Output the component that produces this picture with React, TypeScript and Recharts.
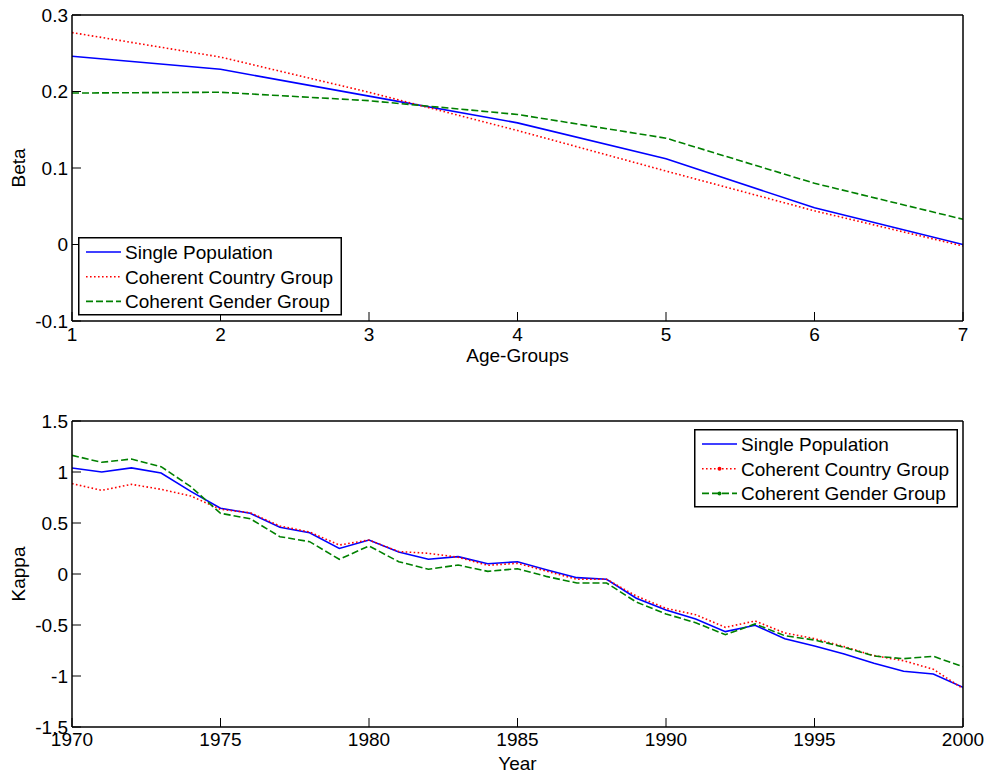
import React from 'react';
import { LineChart, Line, XAxis, YAxis, Legend } from 'recharts';

const FONT = '"Liberation Sans", Arial, Helvetica, sans-serif';
const FS = 19;

// top panel: beta by age group
const ageGroups = [1, 2, 3, 4, 5, 6, 7];
const betaSingle = [0.246, 0.229, 0.194, 0.159, 0.112, 0.048, 0.0];
const betaCountry = [0.277, 0.245, 0.199, 0.149, 0.096, 0.044, -0.002];
const betaGender = [0.198, 0.199, 0.188, 0.17, 0.139, 0.08, 0.033];
const betaTicks = [-0.1, 0, 0.1, 0.2, 0.3];

// bottom panel: kappa by year
const years = [
  1970, 1971, 1972, 1973, 1974, 1975, 1976, 1977, 1978, 1979, 1980, 1981, 1982, 1983, 1984, 1985,
  1986, 1987, 1988, 1989, 1990, 1991, 1992, 1993, 1994, 1995, 1996, 1997, 1998, 1999, 2000,
];
const kappaSingle = [
  1.04, 1.0, 1.04, 0.99, 0.81, 0.644, 0.595, 0.458, 0.405, 0.25, 0.333, 0.216, 0.144, 0.17, 0.101,
  0.12, 0.04, -0.036, -0.052, -0.238, -0.353, -0.441, -0.565, -0.503, -0.634, -0.706, -0.784,
  -0.876, -0.954, -0.98, -1.111,
];
const kappaCountry = [
  0.886, 0.82, 0.879, 0.83, 0.765, 0.634, 0.601, 0.47, 0.412, 0.284, 0.333, 0.22, 0.203, 0.164,
  0.085, 0.105, 0.026, -0.052, -0.052, -0.216, -0.337, -0.399, -0.523, -0.461, -0.578, -0.634,
  -0.712, -0.8, -0.85, -0.934, -1.124,
];
const kappaGender = [
  1.163, 1.095, 1.127, 1.052, 0.856, 0.595, 0.542, 0.366, 0.317, 0.144, 0.275, 0.121, 0.046,
  0.088, 0.026, 0.052, -0.026, -0.088, -0.088, -0.275, -0.392, -0.477, -0.595, -0.49, -0.605,
  -0.647, -0.719, -0.804, -0.83, -0.807, -0.908,
];
const yearTicks = [1970, 1975, 1980, 1985, 1990, 1995, 2000];
const kappaTicks = [-1.5, -1, -0.5, 0, 0.5, 1, 1.5];

const series = [
  { key: 'single', name: 'Single Population', color: '#0000ff', dash: undefined as string | undefined, width: 1.6 },
  { key: 'country', name: 'Coherent Country Group', color: '#ff0000', dash: '1.6 2.4', width: 1.6 },
  { key: 'gender', name: 'Coherent Gender Group', color: '#008000', dash: '7 3', width: 1.6 },
];

const betaData = ageGroups.map((a, i) => ({
  x: a,
  single: betaSingle[i],
  country: betaCountry[i],
  gender: betaGender[i],
}));

const kappaData = years.map((y, i) => ({
  x: y,
  single: kappaSingle[i],
  country: kappaCountry[i],
  gender: kappaGender[i],
}));

const tickStyle = { fill: '#000', fontSize: FS, fontFamily: FONT };
const axisStroke = { stroke: '#000', strokeWidth: 1.5 };
const tickLineStyle = { stroke: '#000', strokeWidth: 1 };

// legend keeps the series order (recharts would sort it by name)
const LegendBox = ({ dots }: { dots?: boolean }) => (
  <svg width={264} height={79} style={{ display: 'block' }}>
    <rect x={0.75} y={0.75} width={262.5} height={77} fill="#fff" stroke="#000" strokeWidth={1.5} />
    {series.map((s, i) => {
      const cy = 15 + i * 24.7;
      return (
        <g key={s.key}>
          <line x1={8} x2={43} y1={cy} y2={cy} stroke={s.color} strokeWidth={s.width} strokeDasharray={s.dash} />
          {dots && i > 0 && <circle cx={25.5} cy={cy} r={2} fill={s.color} />}
          <text x={47} y={cy + 6.8} fontSize={FS} fontFamily={FONT} fill="#000">
            {s.name}
          </text>
        </g>
      );
    })}
  </svg>
);

const xTitle = (text: string, offset: number) => (props: any) => {
  const vb = props.viewBox || {};
  return (
    <text x={vb.x + vb.width / 2} y={vb.y + offset} textAnchor="middle" fontSize={FS} fontFamily={FONT} fill="#000">
      {text}
    </text>
  );
};

const yTitle = (text: string) => (props: any) => {
  const vb = props.viewBox || {};
  const x = vb.x - 46;
  const y = vb.y + vb.height / 2;
  return (
    <text
      x={x}
      y={y}
      transform={`rotate(-90, ${x}, ${y})`}
      textAnchor="middle"
      fontSize={FS}
      fontFamily={FONT}
      fill="#000"
    >
      {text}
    </text>
  );
};

const fmt = (v: number) => String(Math.round(v * 10) / 10);

const renderSeries = () =>
  series.map(s => (
    <Line
      key={s.key}
      type="linear"
      dataKey={s.key}
      name={s.name}
      stroke={s.color}
      strokeWidth={s.width}
      strokeDasharray={s.dash}
      dot={false}
      activeDot={false}
      isAnimationActive={false}
    />
  ));

const App = () => {
  return (
    <div style={{ position: 'absolute', left: 0, top: 0, width: 990, height: 776, background: '#fff' }}>
      <div style={{ position: 'absolute', left: 0, top: 0 }}>
        <LineChart width={990} height={390} data={betaData} margin={{ top: 14, right: 26, bottom: 68, left: 71 }}>
          <XAxis
            dataKey="x"
            type="number"
            domain={[1, 7]}
            ticks={ageGroups}
            allowDataOverflow
            height={1}
            tickSize={-9}
            tickMargin={16}
            tick={tickStyle}
            axisLine={axisStroke}
            tickLine={tickLineStyle}
            label={{ content: xTitle('Age-Groups', 41) }}
          />
          <XAxis
            xAxisId="top"
            orientation="top"
            dataKey="x"
            type="number"
            domain={[1, 7]}
            ticks={ageGroups}
            allowDataOverflow
            height={1}
            tickSize={-9}
            tick={false}
            axisLine={axisStroke}
            tickLine={tickLineStyle}
          />
          <YAxis
            type="number"
            domain={[-0.1, 0.3]}
            ticks={betaTicks}
            allowDataOverflow
            width={1}
            tickSize={-9}
            tickMargin={13}
            tick={tickStyle}
            tickFormatter={fmt}
            axisLine={axisStroke}
            tickLine={tickLineStyle}
            label={{ content: yTitle('Beta') }}
          />
          <YAxis
            yAxisId="right"
            orientation="right"
            type="number"
            domain={[-0.1, 0.3]}
            ticks={betaTicks}
            allowDataOverflow
            width={1}
            tickSize={-9}
            tick={false}
            axisLine={axisStroke}
            tickLine={tickLineStyle}
          />
          {renderSeries()}
          <Legend
            layout="vertical"
            align="center"
            verticalAlign="middle"
            wrapperStyle={{ left: 78, top: 237, width: 264, height: 79 }}
            content={() => <LegendBox />}
          />
        </LineChart>
      </div>

      <div style={{ position: 'absolute', left: 0, top: 390 }}>
        <LineChart width={990} height={386} data={kappaData} margin={{ top: 30, right: 26, bottom: 48, left: 71 }}>
          <XAxis
            dataKey="x"
            type="number"
            domain={[1970, 2000]}
            ticks={yearTicks}
            allowDataOverflow
            height={1}
            tickSize={-9}
            tickMargin={15}
            tick={tickStyle}
            axisLine={axisStroke}
            tickLine={tickLineStyle}
            label={{ content: xTitle('Year', 43) }}
          />
          <XAxis
            xAxisId="top"
            orientation="top"
            dataKey="x"
            type="number"
            domain={[1970, 2000]}
            ticks={yearTicks}
            allowDataOverflow
            height={1}
            tickSize={-9}
            tick={false}
            axisLine={axisStroke}
            tickLine={tickLineStyle}
          />
          <YAxis
            type="number"
            domain={[-1.5, 1.5]}
            ticks={kappaTicks}
            allowDataOverflow
            width={1}
            tickSize={-9}
            tickMargin={13}
            tick={tickStyle}
            axisLine={axisStroke}
            tickLine={tickLineStyle}
            label={{ content: yTitle('Kappa') }}
          />
          <YAxis
            yAxisId="right"
            orientation="right"
            type="number"
            domain={[-1.5, 1.5]}
            ticks={kappaTicks}
            allowDataOverflow
            width={1}
            tickSize={-9}
            tick={false}
            axisLine={axisStroke}
            tickLine={tickLineStyle}
          />
          {renderSeries()}
          <Legend
            layout="vertical"
            align="center"
            verticalAlign="middle"
            wrapperStyle={{ left: 694, top: 39, width: 264, height: 79 }}
            content={() => <LegendBox dots />}
          />
        </LineChart>
      </div>
    </div>
  );
};

export default App;
